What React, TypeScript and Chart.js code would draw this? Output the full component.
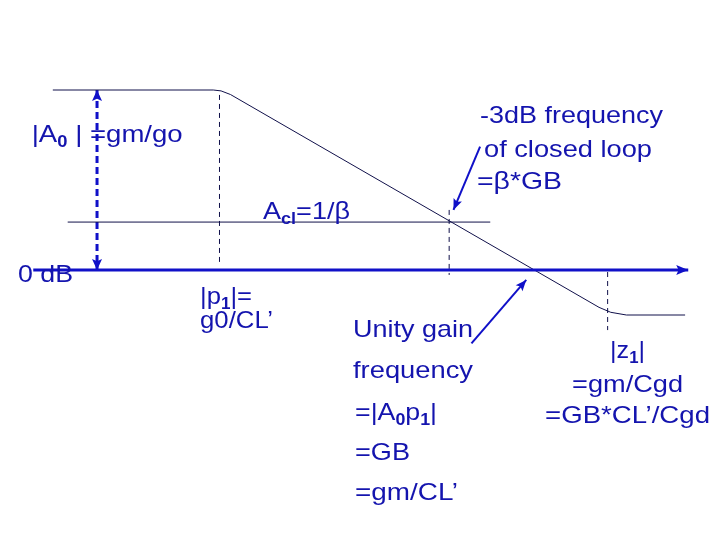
import React, { useEffect, useRef } from "react";
import { Chart, registerables } from "chart.js";

Chart.register(...registerables);

// x: log10(frequency) in decades, y: magnitude in dB
const curveX = [-0.13, 1.92, 2.02, 2.14, 6.85, 7.0, 7.2, 7.95];
const curveY = [80, 80, 79.6, 78.0, -16.6, -18.8, -20, -20];

const aclX = [0.06, 5.46];
const aclY = [21.3, 21.3];

const axisX = [-0.38, 7.99];
const axisY = [0, 0];

const p1DashX = [2.0, 2.0];
const p1DashY = [77.8, 3.6];
const cl3dbDashX = [4.935, 4.935];
const cl3dbDashY = [26.7, -2.2];
const z1DashX = [6.96, 6.96];
const z1DashY = [-0.9, -26.7];

const a0ArrowX = [0.435, 0.435];
const a0ArrowY = [80, 0];

const cl3dbPointerX = [5.33, 4.99];
const cl3dbPointerY = [54.8, 26.7];
const ugPointerX = [5.22, 5.92];
const ugPointerY = [-32.6, -4.4];

type Seg = { t: string; sub?: boolean };
// label anchor (left, baseline) in data units
const labels: { segs: Seg[]; x: number; y: number; w: number }[] = [
  { segs: [{ t: "|A" }, { t: "0", sub: true }, { t: " | =gm/go" }], x: -0.4, y: 56.9, w: 151 },
  { segs: [{ t: "0 dB" }], x: -0.575, y: -5.33, w: 55 },
  { segs: [{ t: "A" }, { t: "cl", sub: true }, { t: "=1/β" }], x: 2.556, y: 22.7, w: 87 },
  { segs: [{ t: "|p" }, { t: "1", sub: true }, { t: "|=" }], x: 1.751, y: -15.1, w: 52 },
  { segs: [{ t: "g0/CL’" }], x: 1.751, y: -25.8, w: 73 },
  { segs: [{ t: "-3dB frequency" }], x: 5.329, y: 65.3, w: 183 },
  { segs: [{ t: "of closed loop" }], x: 5.38, y: 50.2, w: 168 },
  { segs: [{ t: "=β*GB" }], x: 5.291, y: 36, w: 85 },
  { segs: [{ t: "Unity gain" }], x: 3.706, y: -29.8, w: 120 },
  { segs: [{ t: "frequency" }], x: 3.706, y: -48, w: 120 },
  { segs: [{ t: "=|A" }, { t: "0", sub: true }, { t: "p" }, { t: "1", sub: true }, { t: "|" }], x: 3.732, y: -66.7, w: 82 },
  { segs: [{ t: "=GB" }], x: 3.732, y: -84.4, w: 55 },
  { segs: [{ t: "=gm/CL’" }], x: 3.732, y: -102.2, w: 103 },
  { segs: [{ t: "|z" }, { t: "1", sub: true }, { t: "|" }], x: 6.991, y: -39.1, w: 35 },
  { segs: [{ t: "=gm/Cgd" }], x: 6.505, y: -54.2, w: 111 },
  { segs: [{ t: "=GB*CL’/Cgd" }], x: 6.16, y: -68, w: 165 },
];

const pts = (xs: number[], ys: number[]) => xs.map((x, i) => ({ x, y: ys[i] }));

const TEXT = "#1414AE";
const BLUE = "#1010C8";
const DARK = "#10104A";

const arrowPlugin = {
  id: "arrowsAndText",
  afterDatasetsDraw(chart: any) {
    const ctx = chart.ctx;
    chart.data.datasets.forEach((ds: any, i: number) => {
      if (!ds.arrow) return;
      const meta = chart.getDatasetMeta(i);
      const p = meta.data;
      const head = (tip: any, from: any) => {
        const ang = Math.atan2(tip.y - from.y, tip.x - from.x);
        const L = ds.arrowLen || 10;
        const W = ds.arrowWidth || 4;
        ctx.save();
        ctx.translate(tip.x, tip.y);
        ctx.rotate(ang);
        ctx.beginPath();
        ctx.moveTo(0, 0);
        ctx.lineTo(-L, -W);
        ctx.lineTo(-L * 0.8, 0);
        ctx.lineTo(-L, W);
        ctx.closePath();
        ctx.fillStyle = ds.borderColor;
        ctx.fill();
        ctx.restore();
      };
      if (ds.arrow === "end" || ds.arrow === "both") head(p[p.length - 1], p[p.length - 2]);
      if (ds.arrow === "start" || ds.arrow === "both") head(p[0], p[1]);
    });

    const xs = chart.scales.x;
    const ys = chart.scales.y;
    const big = '24px "Liberation Sans", Arial, sans-serif';
    const small = 'bold 16px "Liberation Sans", Arial, sans-serif';
    ctx.save();
    ctx.fillStyle = TEXT;
    ctx.textBaseline = "alphabetic";
    ctx.textAlign = "left";
    labels.forEach((lb) => {
      let nat = 0;
      lb.segs.forEach((s) => {
        ctx.font = s.sub ? small : big;
        nat += ctx.measureText(s.t).width;
      });
      const sx = lb.w / nat;
      const px = xs.getPixelForValue(lb.x);
      const py = ys.getPixelForValue(lb.y);
      ctx.save();
      ctx.translate(px, py);
      ctx.scale(sx, 1);
      let cx = 0;
      lb.segs.forEach((s) => {
        ctx.font = s.sub ? small : big;
        ctx.fillText(s.t, cx, s.sub ? 5 : 0);
        cx += ctx.measureText(s.t).width;
      });
      ctx.restore();
    });
    ctx.restore();
  },
};

export default function App() {
  const ref = useRef<HTMLCanvasElement | null>(null);
  useEffect(() => {
    if (!ref.current) return;
    const line = (data: any, color: string, width: number, extra: any = {}) => ({
      data,
      showLine: true,
      borderColor: color,
      backgroundColor: color,
      borderWidth: width,
      pointRadius: 0,
      tension: 0,
      fill: false,
      ...extra,
    });
    const chart = new Chart(ref.current, {
      type: "scatter",
      data: {
        datasets: [
          line(pts(axisX, axisY), BLUE, 3, { arrow: "end", arrowLen: 12, arrowWidth: 5 }),
          line(pts(curveX, curveY), DARK, 1),
          line(pts(aclX, aclY), DARK, 1),
          line(pts(p1DashX, p1DashY), DARK, 1, { borderDash: [5, 4] }),
          line(pts(cl3dbDashX, cl3dbDashY), DARK, 1, { borderDash: [5, 4] }),
          line(pts(z1DashX, z1DashY), DARK, 1, { borderDash: [5, 4] }),
          line(pts(a0ArrowX, a0ArrowY), BLUE, 3, { borderDash: [7, 4], arrow: "both", arrowLen: 11, arrowWidth: 5 }),
          line(pts(cl3dbPointerX, cl3dbPointerY), BLUE, 2, { arrow: "end", arrowLen: 11, arrowWidth: 4.5 }),
          line(pts(ugPointerX, ugPointerY), BLUE, 2, { arrow: "end", arrowLen: 11, arrowWidth: 4.5 }),
        ] as any,
      },
      options: {
        animation: false,
        responsive: false,
        devicePixelRatio: 1,
        layout: { padding: 0 },
        plugins: { legend: { display: false }, tooltip: { enabled: false } },
        scales: {
          x: { type: "linear", min: -0.805, max: 8.396, display: false },
          y: { type: "linear", min: -120, max: 120, display: false },
        },
      },
      plugins: [arrowPlugin],
    });
    return () => chart.destroy();
  }, []);
  return (
    <div style={{ position: "absolute", left: 0, top: 0, width: 720, height: 540, background: "#fff" }}>
      <canvas ref={ref} width={720} height={540} style={{ display: "block" }} />
    </div>
  );
}
